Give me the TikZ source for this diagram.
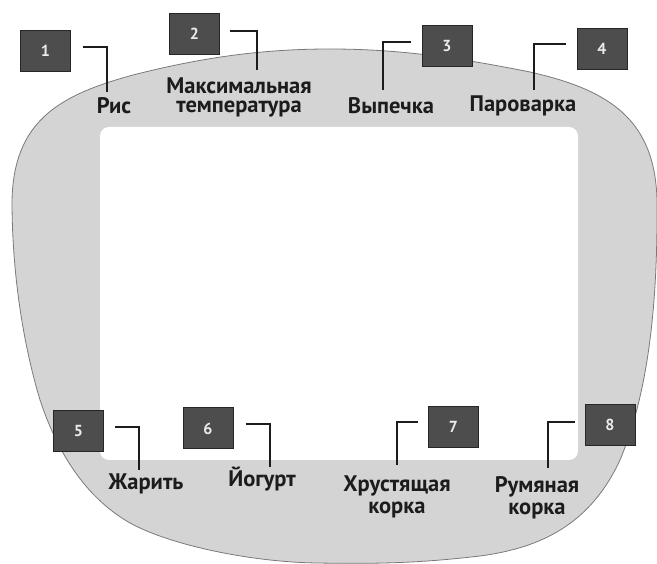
\documentclass[tikz,border=0pt]{standalone}
\usepackage{fontspec}
\setmainfont{PT Sans}
\usepackage{tikz}
\usetikzlibrary{positioning}
\definecolor{panelgray}{HTML}{D4D4D4}
\definecolor{edgegray}{HTML}{7A7A7A}
\definecolor{keyfill}{HTML}{4D4D4D}
\definecolor{keydraw}{HTML}{262626}
\definecolor{inkgray}{HTML}{1C1C1C}

\begin{document}
\begin{tikzpicture}[
    x=1pt, y=-1pt,
    numbox/.style={rectangle, draw=keydraw, fill=keyfill, line width=1pt,
                   minimum width=50pt, minimum height=41pt, inner sep=0pt,
                   text=white!92!black, font=\fontsize{16}{16}\selectfont\bfseries},
    modelbl/.style={align=center, text=inkgray, inner sep=0pt, anchor=north,
                    font=\fontsize{22.5}{19}\selectfont\bfseries},
    widelbl/.style={modelbl, font=\fontsize{22.5}{22}\selectfont\bfseries},
    leader/.style={draw=inkgray, line width=1.1pt},
]
  \useasboundingbox (0,0) rectangle (657,564);

  % ---- panel ----
  \filldraw[fill=panelgray, draw=edgegray, line width=0.8pt]
    (12,200) .. controls (14,120) and (60,95) .. (133,75)
    .. controls (200,58) and (260,49) .. (330,49)
    .. controls (400,49) and (460,58) .. (530,72)
    .. controls (610,90) and (655,120) .. (657,200)
    .. controls (658,320) and (645,400) .. (620,460)
    .. controls (590,525) and (540,548) .. (480,556)
    .. controls (420,563) and (380,564) .. (317,563)
    .. controls (250,562) and (170,545) .. (130,523)
    .. controls (90,500) and (60,460) .. (40,400)
    .. controls (25,350) and (12,280) .. cycle;
  % screen window
  \fill[white, rounded corners=9pt] (100,127) rectangle (578,460);

  % ---- number keys ----
  \node[numbox] (n1) at (45.5,51)  {1};
  \node[numbox] (n2) at (194.5,34) {2};
  \node[numbox] (n3) at (447,46)   {3};
  \node[numbox] (n4) at (602,49)   {4};
  \node[numbox] (n5) at (78.5,431.5) {5};
  \node[numbox] (n6) at (208,428.5) {6};
  \node[numbox] (n7) at (453.5,427) {7};
  \node[numbox] (n8) at (610,425)   {8};

  % ---- mode labels ----
  \node[modelbl] (l1) at (114,97) {Рис};
  \node[modelbl] (l2) at (239,78) {Максимальная\\температура};
  \node[modelbl] (l3) at (391,97) {Выпечка};
  \node[modelbl] (l4) at (523,96) {Пароварка};
  \node[modelbl] (l5) at (146,474) {Жарить};
  \node[modelbl] (l6) at (262,467) {Йогурт};
  \node[widelbl] (l7) at (397,476) {Хрустящая\\корка};
  \node[widelbl] (l8) at (537,476) {Румяная\\корка};

  % ---- leaders ----
  \draw[leader] ([shift={(12,-4)}]n1.east) -| ([shift={(-7,-5)}]l1.north);
  \draw[leader] ([shift={(10,-3)}]n2.east) -| ([shift={(18,-8)}]l2.north);
  \draw[leader] ([shift={(-11,-4)}]n3.west) -| ([shift={(-8,-7)}]l3.north);
  \draw[leader] ([shift={(-11,-5)}]n4.west) -| ([shift={(11,-6)}]l4.north);
  \draw[leader] ([shift={(11,-4.5)}]n5.east) -| ([shift={(-7,-4)}]l5.north);
  \draw[leader] ([shift={(12,-4.5)}]n6.east) -| ([shift={(8,0)}]l6.north);
  \draw[leader] ([shift={(-10.5,-5)}]n7.west) -| ([shift={(0,-11)}]l7.north);
  \draw[leader] ([shift={(-10,-3)}]n8.west) -| ([shift={(11,-8)}]l8.north);
\end{tikzpicture}
\end{document}
